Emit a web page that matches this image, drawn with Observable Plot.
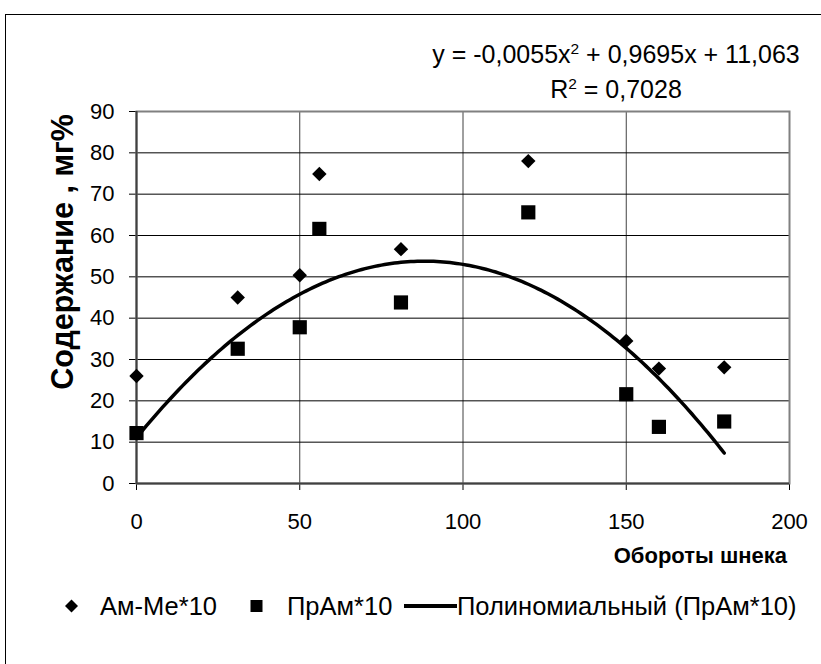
<!DOCTYPE html>
<html>
<head>
<meta charset="utf-8">
<script src="https://cdn.jsdelivr.net/npm/d3@7"></script>
<script src="https://cdn.jsdelivr.net/npm/@observablehq/plot@0.6"></script>
<style>
  html, body { margin: 0; padding: 0; background: #fff; overflow: hidden; }
  body { width: 821px; height: 664px; position: relative; font-family: "Liberation Sans", Arial, sans-serif; color: #000; }
  #frame { position: absolute; left: 5px; top: 14px; width: 900px; height: 800px; border: 1px solid #000; box-sizing: border-box; }
  #chart { position: absolute; left: 0; top: 0; }
  .t { position: absolute; white-space: nowrap; line-height: 1; }
  sup { font-size: 0.62em; line-height: 0; vertical-align: 0.55em; }
</style>
</head>
<body>
<div id="frame"></div>
<div id="chart"></div>
<script>
// ---- data ----
const oboroty = [0, 31, 50, 56, 81, 120, 150, 160, 180];          // Обороты шнека
const amMe10  = [26.0, 45.0, 50.4, 74.9, 56.7, 78.0, 34.5, 27.8, 28.1]; // Ам-Ме*10
const prAm10  = [12.2, 32.6, 37.8, 61.6, 43.8, 65.6, 21.6, 13.7, 15.0]; // ПрАм*10
const trendCoefficients = [-0.0055, 0.9695, 11.063];               // y = a x² + b x + c (from the chart label)
const trendXRange = [0, 180];
const xTicks = [0, 50, 100, 150, 200];
const yTicks = [0, 10, 20, 30, 40, 50, 60, 70, 80, 90];
const xGrid = [50, 100, 150];
const equationText = ["y = -0,0055x", "2", " + 0,9695x + 11,063"];
const r2Text = ["R", "2", " = 0,7028"];
const xTitle = "Обороты шнека";
const yTitle = "Содержание , мг%";
const legendNames = ["Ам-Ме*10", "ПрАм*10", "Полиномиальный (ПрАм*10)"];

const amData = oboroty.map((x, i) => ({x, y: amMe10[i]}));
const prData = oboroty.map((x, i) => ({x, y: prAm10[i]}));
const [a, b, c] = trendCoefficients;
const trendData = d3.range(trendXRange[0], trendXRange[1] + 0.001, 1).map(x => ({x, y: a * x * x + b * x + c}));

const chart = Plot.plot({
  width: 821,
  height: 540,
  marginLeft: 136,
  marginRight: 32,
  marginTop: 111,
  marginBottom: 57,
  style: {fontFamily: '"Liberation Sans", Arial, sans-serif', fontSize: "22px", color: "#000", background: "transparent", overflow: "visible"},
  x: {domain: [0, 200], ticks: xTicks, tickSize: 7, tickPadding: 23, label: null, tickFormat: d => String(d)},
  y: {domain: [0, 90], ticks: yTicks, tickSize: 7, tickPadding: 15, label: null, tickFormat: d => String(d)},
  marks: [
    Plot.ruleY(yTicks.slice(1), {stroke: "#000", strokeWidth: 1}),
    Plot.ruleX(xGrid, {stroke: "#000", strokeWidth: 1, strokeOpacity: 0.75}),
    Plot.frame({stroke: "#808080", strokeWidth: 2}),
    Plot.ruleX([0], {stroke: "#404040", strokeWidth: 2}),
    Plot.ruleY([0], {stroke: "#404040", strokeWidth: 2}),
    Plot.line(trendData, {x: "x", y: "y", stroke: "#000", strokeWidth: 3.5, curve: "linear"}),
    Plot.dot(amData, {x: "x", y: "y", symbol: "diamond2", r: 6.5, fill: "#000", stroke: "none"}),
    Plot.dot(prData, {x: "x", y: "y", symbol: "square", r: 8, fill: "#000", stroke: "none"})
  ]
});
document.getElementById("chart").append(chart);

function addText(html, style) {
  const d = document.createElement("div");
  d.className = "t";
  d.innerHTML = html;
  Object.assign(d.style, style);
  document.body.append(d);
  return d;
}

// trendline label
addText(`${equationText[0]}<sup>${equationText[1]}</sup>${equationText[2]}<br>${r2Text[0]}<sup>${r2Text[1]}</sup>${r2Text[2]}`,
  {left: "416px", width: "400px", top: "37px", textAlign: "center", fontSize: "25px", lineHeight: "35px"});

// axis titles
addText(yTitle, {left: "62px", top: "252px", fontSize: "30.5px", fontWeight: "bold", transform: "translate(-50%, -50%) rotate(-90deg)"});
addText(xTitle, {right: "34px", top: "545px", fontSize: "22px", fontWeight: "bold"});

// legend
const legY = 606;
const legFont = 25.5;
const legend = document.createElement("div");
legend.style.position = "absolute";
legend.style.left = "0"; legend.style.top = "0";
legend.innerHTML = `
<svg width="821" height="664" style="position:absolute;left:0;top:0">
  <path d="M71.5,${legY - 6.5} L78,${legY} L71.5,${legY + 6.5} L65,${legY} Z" fill="#000"/>
  <rect x="250.5" y="${legY - 6}" width="12" height="12" fill="#000"/>
  <line x1="404" x2="457" y1="${legY}" y2="${legY}" stroke="#000" stroke-width="4"/>
</svg>`;
document.body.append(legend);
const legTop = (legY - legFont * 0.49) + "px";
addText(legendNames[0], {left: "100px", top: legTop, fontSize: legFont + "px"});
addText(legendNames[1], {left: "287px", top: legTop, fontSize: legFont + "px"});
addText(legendNames[2], {left: "457px", top: legTop, fontSize: legFont + "px"});
</script>
</body>
</html>
